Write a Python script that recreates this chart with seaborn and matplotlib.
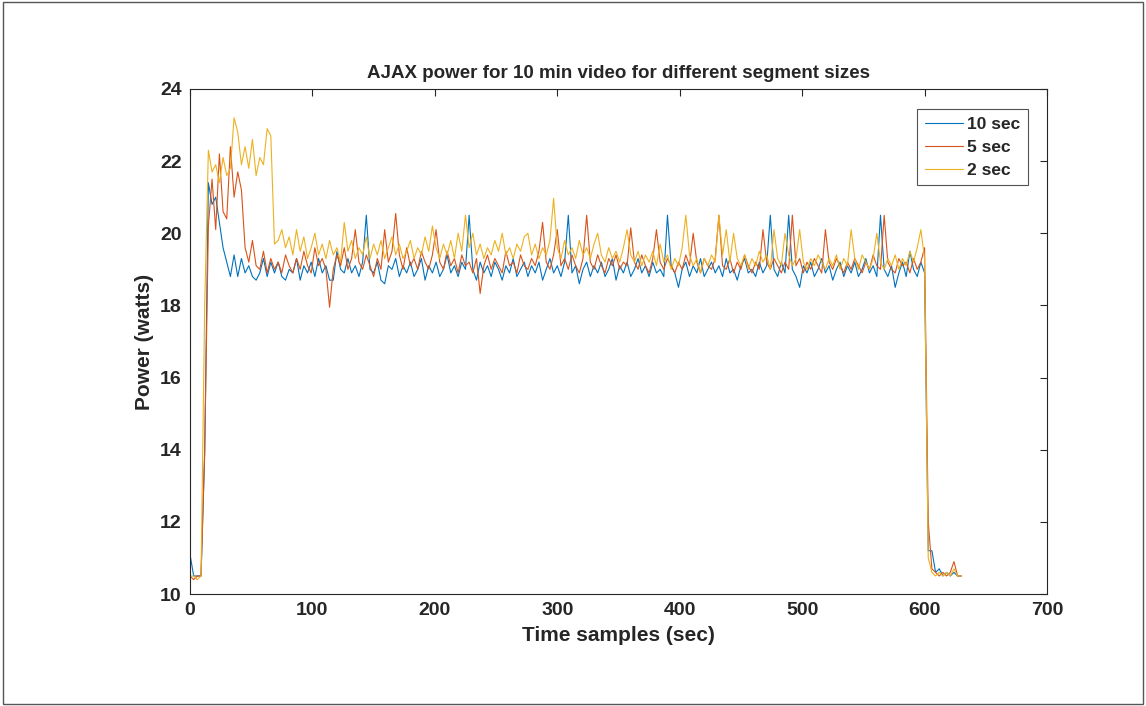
import numpy as np
import pandas as pd
import matplotlib
matplotlib.use("Agg")
import matplotlib.pyplot as plt
import seaborn as sns
from matplotlib.patches import Rectangle

step_sec = 3
series_names = ["10 sec", "5 sec", "2 sec"]

p10 = [
    11.1, 10.5, 10.5, 10.5, 13.9, 21.4, 20.8, 21.0, 20.3, 19.6, 19.2, 18.8, 19.4, 18.8, 19.3, 18.9, 19.1, 18.8, 18.7, 18.9, 19.3, 18.8, 19.2, 18.9, 19.2, 18.8, 18.7, 19.0, 18.9, 19.3,
    18.7, 19.1, 18.9, 19.2, 18.8, 19.3, 18.9, 19.1, 18.7, 18.7, 19.5, 19.0, 18.9, 19.3, 18.9, 19.1, 18.8, 19.2, 20.5, 19.0, 18.9, 19.2, 18.7, 18.6, 19.1, 19.0, 19.3, 18.8, 19.1, 18.9,
    19.2, 18.8, 19.0, 19.3, 18.7, 19.1, 18.9, 19.2, 18.8, 19.0, 19.4, 18.9, 19.1, 18.8, 19.2, 19.0, 20.5, 19.0, 18.7, 19.2, 18.9, 19.1, 18.8, 19.2, 19.0, 18.7, 19.1, 18.9, 19.3, 18.8,
    19.0, 19.2, 18.8, 19.1, 18.9, 19.2, 18.7, 19.0, 19.3, 18.9, 19.1, 18.8, 19.2, 20.5, 18.9, 19.1, 18.6, 19.0, 19.2, 18.8, 19.1, 18.9, 19.2, 18.8, 19.0, 19.3, 18.7, 19.1, 18.9, 19.2,
    18.8, 19.0, 19.3, 18.9, 19.1, 18.8, 19.2, 18.9, 19.0, 18.8, 20.5, 19.1, 18.9, 18.5, 19.0, 19.2, 18.8, 19.1, 18.9, 19.3, 18.8, 19.0, 19.2, 18.9, 19.1, 18.8, 19.3, 18.9, 19.0, 18.7,
    19.1, 19.3, 18.9, 19.0, 18.8, 19.2, 18.9, 19.1, 20.5, 19.0, 18.8, 19.2, 18.9, 20.5, 19.0, 18.8, 18.5, 19.1, 18.9, 19.2, 18.8, 19.0, 19.3, 18.9, 19.1, 18.7, 19.0, 19.2, 18.8, 19.1,
    18.9, 19.2, 18.8, 19.0, 19.3, 18.9, 19.1, 18.8, 20.5, 19.0, 18.8, 19.1, 18.5, 18.9, 19.2, 18.8, 19.5, 19.0, 18.8, 19.2, 18.9, 11.2, 11.2, 10.6, 10.7, 10.5, 10.6, 10.5, 10.6, 10.5, 10.5,
]

p5 = [
    10.5, 10.4, 10.5, 10.5, 14.0, 20.2, 21.5, 20.1, 22.2, 20.6, 20.4, 22.4, 21.0, 21.7, 21.2, 19.6, 19.2, 19.8, 19.1, 19.0, 19.5, 18.9, 19.3, 19.0, 19.2, 18.9, 19.4, 19.1, 18.9, 19.3,
    19.0, 19.5, 19.1, 18.9, 19.6, 19.1, 19.3, 19.0, 17.95, 19.0, 19.4, 19.1, 19.6, 19.0, 19.3, 20.1, 19.2, 19.0, 19.4, 19.1, 18.8, 19.3, 19.0, 20.1, 19.2, 19.5, 20.55, 19.4, 19.0, 19.6,
    19.1, 19.3, 19.0, 19.5, 19.2, 19.0, 19.4, 20.1, 19.2, 19.0, 19.5, 19.1, 19.3, 18.9, 19.4, 19.1, 19.2, 18.9, 19.3, 18.33, 19.1, 19.4, 19.0, 19.3, 19.1, 18.9, 19.5, 19.1, 19.2, 18.9,
    19.4, 19.1, 19.0, 19.3, 19.1, 19.5, 20.3, 19.2, 19.0, 19.4, 20.1, 19.1, 19.3, 19.0, 19.4, 19.1, 18.9, 19.3, 20.5, 19.2, 19.0, 19.4, 19.1, 18.9, 19.3, 19.1, 19.4, 19.0, 19.2, 19.1,
    20.15, 19.2, 19.0, 19.4, 19.1, 18.9, 19.3, 20.1, 19.2, 19.0, 19.3, 19.1, 18.9, 19.2, 19.0, 19.4, 19.1, 20.0, 19.2, 18.9, 19.3, 19.1, 19.0, 19.3, 20.5, 19.1, 19.0, 19.3, 18.9, 19.2,
    19.0, 19.4, 19.1, 18.9, 19.2, 19.0, 20.1, 19.2, 19.0, 19.3, 19.1, 18.9, 19.2, 19.0, 20.5, 19.1, 19.3, 18.9, 19.2, 19.0, 19.3, 19.1, 18.9, 20.1, 19.2, 19.0, 19.3, 19.1, 18.9, 19.2,
    19.0, 19.3, 19.1, 18.9, 19.2, 19.0, 19.4, 19.1, 19.0, 20.5, 19.2, 19.0, 18.9, 19.3, 19.1, 19.2, 18.9, 19.3, 19.0, 19.2, 19.6, 12.0, 10.7, 10.6, 10.5, 10.6, 10.5, 10.6, 10.9, 10.5, 10.5,
]

p2 = [
    10.5, 10.5, 10.4, 10.5, 18.0, 22.3, 21.7, 21.9, 21.4, 22.1, 21.6, 21.8, 23.2, 22.8, 21.9, 22.4, 21.8, 22.6, 21.6, 22.1, 21.9, 22.9, 22.7, 19.7, 19.8, 20.1, 19.6, 19.9, 19.4, 20.1,
    19.5, 19.9, 19.3, 19.6, 20.0, 19.4, 19.7, 19.3, 19.8, 19.4, 19.6, 19.2, 20.3, 19.5, 19.8, 19.3, 19.6, 19.4, 19.9, 19.3, 19.7, 19.4, 19.8, 19.3, 19.6, 19.9, 19.4, 19.7, 19.3, 19.5,
    19.8, 19.3, 19.6, 19.4, 19.9, 19.5, 20.2, 19.6, 19.3, 19.7, 19.4, 19.8, 19.3, 20.0, 19.5, 20.5, 19.6, 20.0, 19.4, 19.7, 19.3, 19.6, 19.4, 19.8, 19.5, 20.0, 19.4, 19.6, 19.3, 19.7,
    19.5, 19.9, 20.0, 19.4, 19.7, 19.3, 19.6, 19.4, 19.8, 20.97, 19.6, 19.3, 19.8, 19.4, 19.6, 19.3, 19.8, 19.4, 19.6, 19.3, 19.7, 20.0, 19.4, 19.2, 19.6, 19.3, 19.5, 19.2, 19.6, 20.1,
    19.4, 19.2, 19.5, 19.1, 19.4, 19.2, 19.5, 19.1, 19.7, 19.2, 19.4, 19.0, 19.3, 19.1, 19.6, 20.5, 19.4, 19.1, 19.3, 18.9, 19.3, 19.1, 19.4, 19.2, 20.5, 19.4, 20.1, 19.2, 20.0, 19.3,
    19.1, 19.4, 19.0, 19.3, 19.1, 19.5, 19.2, 19.4, 19.0, 20.1, 19.3, 19.1, 20.0, 19.4, 19.1, 19.3, 20.1, 19.2, 19.0, 19.3, 19.1, 19.4, 19.2, 19.0, 19.3, 19.1, 19.4, 19.0, 19.3, 19.1,
    20.1, 19.3, 19.0, 19.4, 19.2, 19.0, 19.3, 20.0, 19.2, 19.0, 19.3, 19.1, 19.4, 19.0, 19.3, 19.1, 19.5, 19.2, 19.6, 20.1, 19.3, 11.0, 10.6, 10.5, 10.6, 10.5, 10.6, 10.5, 10.7, 10.5, 10.5,
]

x_ticks = [0, 100, 200, 300, 400, 500, 600, 700]
y_ticks = [10, 12, 14, 16, 18, 20, 22, 24]
colors = ["#0072BD", "#D95319", "#EDB120"]

frames = []
for name, vals in zip(series_names, [p10, p5, p2]):
    frames.append(pd.DataFrame({"t": np.arange(len(vals)) * step_sec,
                                "power": vals, "series": name}))
df = pd.concat(frames, ignore_index=True)

sns.set_style("white")
plt.rcParams["font.family"] = ["Liberation Sans", "DejaVu Sans"]
plt.rcParams["font.weight"] = "bold"

fig = plt.figure(figsize=(11.46, 7.06), dpi=100)
ax = fig.add_axes([0.1658, 0.1586, 0.7478, 0.7154])

sns.lineplot(data=df, x="t", y="power", hue="series", hue_order=series_names,
             palette=colors, linewidth=0.8, ax=ax, estimator=None, sort=False)

ax.set_xlim(0, 700)
ax.set_ylim(10, 24)
ax.set_xticks(x_ticks)
ax.set_yticks(y_ticks)
ax.tick_params(direction="in", length=5, width=0.8, top=True, right=True,
               labelsize=14, colors="#262626", pad=6)
for lab in ax.get_xticklabels() + ax.get_yticklabels():
    lab.set_fontweight("bold")
for sp in ax.spines.values():
    sp.set_visible(True)
    sp.set_color("#262626")
    sp.set_linewidth(0.8)

ax.set_title("AJAX power for 10 min video for different segment sizes",
             fontsize=13.5, fontweight="bold", pad=8)
ax.set_xlabel("Time samples (sec)", fontsize=15, fontweight="bold", labelpad=5)
ax.set_ylabel("Power (watts)", fontsize=15, fontweight="bold", labelpad=4)

leg = ax.legend(loc="upper right", bbox_to_anchor=(0.988, 0.978), frameon=True,
                fancybox=False, edgecolor="#262626", fontsize=12.5, handlelength=2.2,
                handletextpad=0.2, borderpad=0.45, labelspacing=0.45, title=None)
leg.get_frame().set_linewidth(0.8)
for txt in leg.get_texts():
    txt.set_fontweight("bold")
for line in leg.get_lines():
    line.set_linewidth(0.8)

fig.patches.append(Rectangle((0.003, 0.003), 0.994, 0.994, transform=fig.transFigure,
                             fill=False, edgecolor="#555555", linewidth=1.0))

fig.savefig("out.png", dpi=100)
